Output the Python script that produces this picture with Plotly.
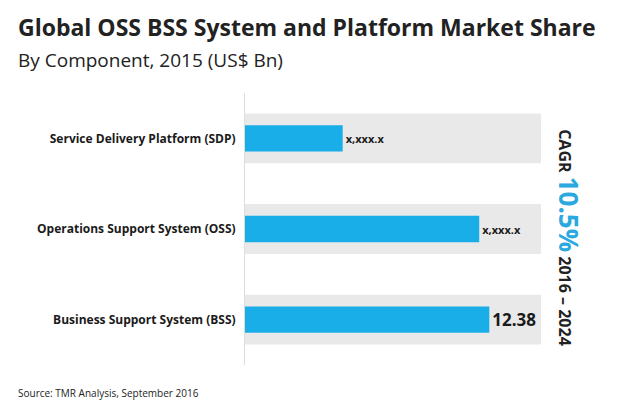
import plotly.graph_objects as go

categories = ['Business Support System (BSS)', 'Operations Support System (OSS)', 'Service Delivery Platform (SDP)']
values = [12.38, 11.87, 4.95]
labels = ['<b>12.38</b>', '<b>x,xxx.x</b>', '<b>x,xxx.x</b>']
label_sizes = [17, 11, 11]
band_max = [15, 15, 15]

fig = go.Figure()
fig.add_trace(go.Bar(y=categories, x=band_max, orientation='h', width=0.55,
                     marker=dict(color='#e9e9e9', line_width=0), hoverinfo='skip'))
fig.add_trace(go.Bar(y=categories, x=values, orientation='h', width=0.29,
                     marker=dict(color='#1aaee8', line_width=0),
                     text=labels, textposition='outside', cliponaxis=False,
                     textfont=dict(size=label_sizes, color='#1a1a1a', family='Open Sans')))

fig.update_layout(
    width=620, height=401, barmode='overlay', showlegend=False,
    paper_bgcolor='white', plot_bgcolor='white',
    margin=dict(l=237, r=87, t=85, b=44, autoexpand=False),
    font=dict(family='Open Sans', color='#1a1a1a'),
    xaxis=dict(range=[0, 15], visible=False),
    yaxis=dict(showline=True, linecolor='#dddddd', linewidth=1, ticks='',
               tickfont=dict(size=12, family='Open Sans', color='#1a1a1a'),
               ticklabelstandoff=6,
               tickvals=categories, ticktext=['<b>%s</b>' % c for c in categories]),
)
fig.add_annotation(text='<b>Global OSS BSS System and Platform Market Share</b>',
                   xref='paper', yref='paper', x=-229 / 296, y=1 + 66 / 272,
                   xanchor='left', yanchor='middle', showarrow=False,
                   font=dict(size=23, color='#222222'))
fig.add_annotation(text='By Component, 2015 (US$ Bn)',
                   xref='paper', yref='paper', x=-229 / 296, y=1 + 33 / 272,
                   xanchor='left', yanchor='middle', showarrow=False,
                   font=dict(size=19, color='#222222'))
fig.add_annotation(text='Source: TMR Analysis, September 2016',
                   xref='paper', yref='paper', x=-229 / 296, y=-28 / 272,
                   xanchor='left', yanchor='middle', showarrow=False,
                   font=dict(size=10, color='#222222'))
fig.add_annotation(text="<b>CAGR <span style='color:#29a9e0;font-size:26px'>10.5%</span> 2016 – 2024</b>",
                   xref='paper', yref='paper', x=1 + 48 / 296, y=0.47,
                   textangle=90, showarrow=False,
                   font=dict(size=16, color='#222222', family='Open Sans'))

fig.write_html("out.html")
